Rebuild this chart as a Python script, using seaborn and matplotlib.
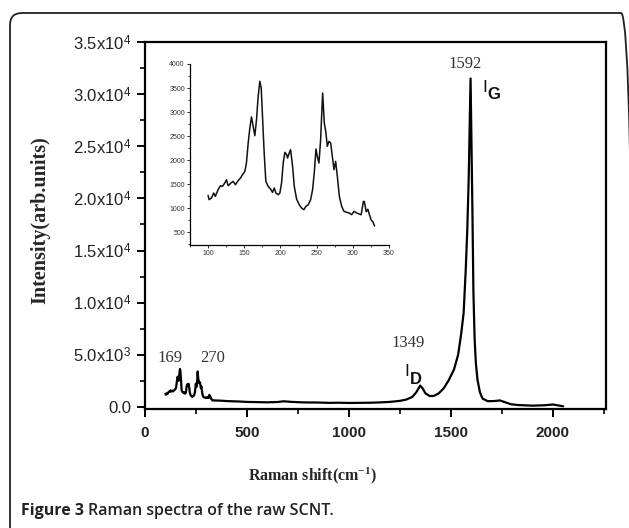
import numpy as np
import pandas as pd
import matplotlib
matplotlib.use("Agg")
import matplotlib.pyplot as plt
from matplotlib.patches import FancyBboxPatch
from matplotlib.ticker import MultipleLocator, FuncFormatter
import seaborn as sns

# ---------------- data ----------------
# low-frequency (RBM) region, shown in the inset and in the main plot
inset_shift = [100, 101.4, 104.6, 107.8, 110, 113.8, 117, 119.8, 123, 125.4, 127.7, 131.4,
               134.6, 137.8, 141.5, 144.8, 147.5, 150.8, 153, 155.4, 157.7, 160, 162.3,
               164.6, 166.9, 169.2, 171.5, 173.4, 175.2, 177.5, 179.8, 183, 186.3, 189,
               191.4, 193.7, 196.9, 199.2, 201.5, 203.8, 206.1, 208.5, 209.8, 212.1, 214,
               216.8, 219.1, 222.3, 226, 229.2, 232.4, 235.2, 238.4, 241.7, 244.4, 246.7,
               249.1, 250.9, 253.2, 255.5, 258.3, 260.6, 262.9, 264.7, 267, 269.4, 271.7,
               274, 276.3, 278.6, 281.4, 284.6, 287.8, 291.5, 295.2, 298.4, 301.7, 305.4,
               309, 311.5, 314.6, 316, 318.5, 320.8, 323.1, 325.4, 327.7, 330]
inset_intensity = [1264, 1174, 1208, 1313, 1243, 1382, 1465, 1451, 1520, 1590, 1465, 1520,
                   1555, 1486, 1570, 1625, 1694, 1764, 1938, 2354, 2667, 2896, 2701,
                   2507, 2840, 3326, 3639, 3500, 2910, 2146, 1555, 1451, 1396, 1326,
                   1417, 1313, 1278, 1313, 1520, 1938, 2160, 2111, 2042, 2146, 2215,
                   1868, 1451, 1187, 1069, 1000, 965, 1035, 1069, 1174, 1382, 1729,
                   2229, 2076, 1938, 2424, 3396, 2771, 2562, 2285, 2389, 2354, 2076,
                   1799, 1972, 1660, 1243, 1035, 931, 910, 896, 861, 931, 896,
                   875, 860, 1139, 1131, 923, 973, 854, 750, 715, 625]

# rest of the spectrum (D and G bands)
high_shift = [345, 370, 400, 430, 460, 500, 550, 600, 650, 680, 720, 780, 850, 900, 950,
              1000, 1050, 1100, 1150, 1200, 1250, 1280, 1310, 1330, 1349, 1360, 1375,
              1395, 1415, 1440, 1465, 1490, 1515, 1535, 1550, 1562, 1572, 1580, 1587,
              1592, 1596, 1600, 1605, 1610, 1616, 1622, 1630, 1642, 1655, 1680, 1710,
              1740, 1765, 1795, 1830, 1900, 1960, 2000, 2030, 2050]
high_intensity = [620, 600, 560, 540, 520, 480, 460, 440, 470, 540, 480, 430, 420, 390, 400,
                  380, 390, 400, 430, 480, 580, 700, 950, 1400, 2050, 1800, 1300,
                  1050, 1050, 1300, 1800, 2600, 3600, 5000, 7000, 9000, 13000, 17000, 22000,
                  27000, 31500, 26000, 19000, 11000, 6500, 4200, 2600, 1400, 800, 550, 560,
                  620, 450, 250, 180, 120, 160, 230, 130, 60]

peak_labels = ["169", "270", "1349", "1592"]
band_main = ["I", "I"]
band_sub = ["D", "G"]

main_df = pd.DataFrame({"shift": inset_shift + high_shift,
                        "intensity": inset_intensity + high_intensity})
inset_df = pd.DataFrame({"shift": inset_shift, "intensity": inset_intensity})

# ---------------- style ----------------
sns.set_theme(style="ticks")
plt.rcParams["font.family"] = ["Liberation Sans", "DejaVu Sans"]
plt.rcParams["mathtext.fontset"] = "custom"
plt.rcParams["mathtext.rm"] = "Liberation Serif"
plt.rcParams["mathtext.bf"] = "Liberation Serif:bold"
plt.rcParams["mathtext.sf"] = "Liberation Sans"
plt.rcParams["mathtext.it"] = "Liberation Serif:italic"

fig = plt.figure(figsize=(6.29, 5.28), dpi=100)
fig.patch.set_facecolor("white")

# rounded frame (right and bottom edges run off the image)
frame = FancyBboxPatch((0.10, -0.5), 6.23, 5.15 + 0.5,
                       boxstyle="round,pad=0,rounding_size=0.12",
                       transform=fig.dpi_scale_trans, fill=False,
                       edgecolor="#222222", linewidth=1.3, zorder=0)
fig.patches.append(frame)

W, H = 629, 528
ax = fig.add_axes([145 / W, 1 - 409 / H, (606 - 145) / W, (409 - 42) / H])
ax.set_facecolor("white")
sns.lineplot(data=main_df, x="shift", y="intensity", ax=ax, color="black",
             linewidth=1.6, estimator=None, sort=False)
ax.set_xlim(0, 2260)
ax.set_ylim(-200, 35000)
ax.xaxis.set_major_locator(MultipleLocator(500))
ax.xaxis.set_minor_locator(MultipleLocator(250))
ax.yaxis.set_major_locator(MultipleLocator(5000))
ax.yaxis.set_minor_locator(MultipleLocator(2500))


def yfmt(v, pos):
    if abs(v) < 1e-9:
        return "0.0"
    e = int(np.floor(np.log10(abs(v))))
    m = v / 10 ** e
    return "%.1fx10$^{\\mathsf{%d}}$" % (m, e)


ax.yaxis.set_major_formatter(FuncFormatter(yfmt))
for s in ax.spines.values():
    s.set_linewidth(1.6)
    s.set_color("black")
ax.tick_params(which="major", direction="out", length=6, width=1.4, color="black",
               pad=4, labelsize=12, labelcolor="#222222")
ax.tick_params(which="minor", direction="out", length=3.5, width=1.2, color="black")
ax.tick_params(axis="x", which="major", pad=6, labelsize=11)
for lab in ax.get_xticklabels():
    lab.set_fontweight("bold")

ax.set_xlabel("Raman shift(cm$^{\\mathbf{-1}}$)", family="Liberation Serif",
              fontweight="bold", fontsize=11.5)
ax.xaxis.set_label_coords((312 - 145) / 461, -0.155)
ax.set_ylabel("Intensity(arb.units)", family="Liberation Serif", fontweight="bold",
              fontsize=14.5)
ax.yaxis.set_label_coords(-0.205, 0.515)

# peak annotations
serif = dict(family="Liberation Serif", fontsize=12, color="#333333", ha="center", va="center")
ax.text(122, 4700, peak_labels[0], **serif)
ax.text(330, 4700, peak_labels[1], **serif)
ax.text(1290, 6100, peak_labels[2], **serif)
ax.text(1570, 32900, peak_labels[3], **serif)
# band labels: I with a large, bold subscript
band = dict(family="Liberation Sans", ha="center", va="baseline", color="#111111")
ax.text(1282, 2930, band_main[0], fontsize=12.5, **band)
ax.text(1330, 2160, band_sub[0], fontsize=12, fontweight="bold", **band)
ax.text(1664, 30240, band_main[1], fontsize=12.5, **band)
ax.text(1708, 29570, band_sub[1], fontsize=12, fontweight="bold", **band)

# inset
axi = fig.add_axes([190 / W, 1 - 245 / H, (389 - 190) / W, (245 - 64) / H])
axi.patch.set_alpha(0)
sns.lineplot(data=inset_df, x="shift", y="intensity", ax=axi, color="#111111",
             linewidth=1.1, estimator=None, sort=False)
axi.set_xlim(75, 350)
axi.set_ylim(230, 4000)
axi.spines["top"].set_visible(False)
axi.spines["right"].set_visible(False)
axi.spines["left"].set_bounds(230, 4000)
axi.spines["bottom"].set_bounds(75, 350)
for s in ("left", "bottom"):
    axi.spines[s].set_linewidth(0.9)
    axi.spines[s].set_color("black")
axi.xaxis.set_minor_locator(MultipleLocator(25))
axi.yaxis.set_minor_locator(MultipleLocator(250))
axi.set_xticks([100, 150, 200, 250, 300, 350])
axi.set_yticks([500, 1000, 1500, 2000, 2500, 3000, 3500, 4000])
axi.tick_params(which="major", direction="out", length=2.5, width=0.7, pad=1.2,
                labelsize=5, labelcolor="#333333")
axi.tick_params(which="minor", direction="out", length=1.5, width=0.6)
axi.set_xlabel("")
axi.set_ylabel("")

# caption
cap1 = fig.text(21 / W, 1 - 511 / H, "Figure 3", family="Open Sans", fontweight="bold",
                fontsize=11.5, ha="left", va="center", color="#222222")
fig.canvas.draw()
bb = cap1.get_window_extent(renderer=fig.canvas.get_renderer())
fig.text((bb.x1 + 4.5) / W, 1 - 511 / H, "Raman spectra of the raw SCNT.",
         family="Open Sans", fontweight="semibold", fontsize=11.5, ha="left",
         va="center", color="#222222")

fig.savefig("out.png", dpi=100, facecolor="white")
